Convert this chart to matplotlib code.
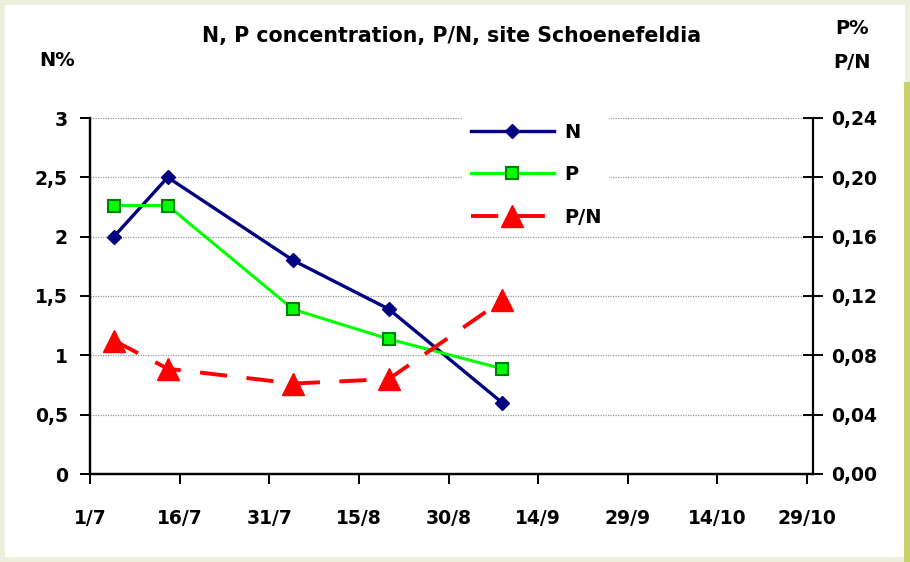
# N, P concentration and P/N ratio, site Schoenefeldia
# two y axes: N% on the left, P% and P/N on the right

import matplotlib
matplotlib.use('Agg')
import matplotlib.pyplot as plt
from matplotlib.patches import Rectangle
import pandas as pd

plt.rcParams['font.family'] = ['DejaVu Sans']
plt.rcParams['font.weight'] = 'bold'

# ===== data =====
sample_dates = pd.to_datetime(['2009-07-05', '2009-07-14', '2009-08-04',
                               '2009-08-20', '2009-09-08'])
n_pct = [2.0, 2.5, 1.8, 1.39, 0.6]
p_pct = [0.181, 0.181, 0.111, 0.091, 0.071]
p_over_n = [0.090, 0.071, 0.061, 0.064, 0.117]

tick_dates = pd.to_datetime(['2009-07-01', '2009-07-16', '2009-07-31', '2009-08-15',
                             '2009-08-30', '2009-09-14', '2009-09-29', '2009-10-14',
                             '2009-10-29'])
tick_labels = ['1/7', '16/7', '31/7', '15/8', '30/8', '14/9', '29/9', '14/10', '29/10']
left_ticks = [0, 0.5, 1, 1.5, 2, 2.5, 3]
left_labels = ['0', '0,5', '1', '1,5', '2', '2,5', '3']
right_ticks = [0, 0.04, 0.08, 0.12, 0.16, 0.20, 0.24]
right_labels = ['0,00', '0,04', '0,08', '0,12', '0,16', '0,20', '0,24']

# ===== figure / background =====
W, H = 910, 562
fig = plt.figure(figsize=(W / 100, H / 100), dpi=100, facecolor='#EDEFDC')
fig.patches.append(Rectangle((5 / W, 5 / H), 900 / W, 552 / H, transform=fig.transFigure,
                             facecolor='white', edgecolor='none', zorder=-10))
fig.patches.append(Rectangle((904 / W, 0), 6 / W, 480 / H, transform=fig.transFigure,
                             facecolor='#C6D36C', edgecolor='none', zorder=-9))

ax = fig.add_axes([90 / W, 1 - 474 / H, 723 / W, 356 / H])
ax.set_facecolor('none')
ax2 = ax.twinx()

# ===== lines =====
l_n, = ax.plot(sample_dates, n_pct, color='#000080', lw=2.4, marker='D', ms=7.5,
               mfc='#000080', mec='#000080', label='N', zorder=4)
l_p, = ax2.plot(sample_dates, p_pct, color='#00FF00', lw=2.2, marker='s', ms=8,
                mfc='#00FF00', mec='#008000', mew=1.5, label='P', zorder=4)
l_pn, = ax2.plot(sample_dates, p_over_n, color='#FF0000', lw=2.8, marker='^', ms=16,
                 mfc='#FF0000', mec='#FF0000', dashes=(7, 5), label='P/N', zorder=4)

# ===== axes =====
ax.set_xlim(pd.Timestamp('2009-07-01'), pd.Timestamp('2009-10-30'))
ax.set_ylim(0, 3)
ax2.set_ylim(0, 0.24)

ax.set_xticks(tick_dates)
ax.set_xticklabels(tick_labels)
ax.set_yticks(left_ticks)
ax.set_yticklabels(left_labels)
ax2.set_yticks(right_ticks)
ax2.set_yticklabels(right_labels)

for a in (ax, ax2):
    for s in a.spines.values():
        s.set_linewidth(1.6)
    a.spines['top'].set_visible(False)
ax.spines['right'].set_visible(False)

ax.tick_params(axis='both', direction='out', length=7, width=1.4, labelsize=13.5,
               pad=9, colors='black')
ax.tick_params(axis='x', pad=18)
ax2.tick_params(axis='y', direction='inout', length=14, width=1.4, labelsize=13.5, pad=6)

ax.yaxis.grid(True, color='#9A9A9A', linestyle=(0, (1, 1)), linewidth=0.9)
ax.set_axisbelow(True)

# ===== texts =====
fig.text(452 / W, 1 - 36 / H, 'N, P concentration, P/N, site Schoenefeldia',
         ha='center', va='center', fontsize=14.8, fontweight='bold')
fig.text(57 / W, 1 - 60 / H, 'N%', ha='center', va='center', fontsize=14, fontweight='bold')
fig.text(852 / W, 1 - 46 / H, 'P%\nP/N', ha='center', va='center', fontsize=14,
         fontweight='bold', linespacing=2.0)

# ===== legend =====
leg = fig.legend(handles=[l_n, l_p, l_pn], loc='upper left',
                 bbox_to_anchor=(453 / W, 1 - 105 / H), numpoints=1,
                 handlelength=4.3, handletextpad=0.5, labelspacing=1.22,
                 fontsize=14, frameon=True, borderpad=0.4)
leg.get_frame().set_facecolor('white')
leg.get_frame().set_edgecolor('none')
leg.get_frame().set_alpha(1)
for t in leg.get_texts():
    t.set_fontweight('bold')

fig.savefig('out.png', dpi=100, facecolor=fig.get_facecolor())
